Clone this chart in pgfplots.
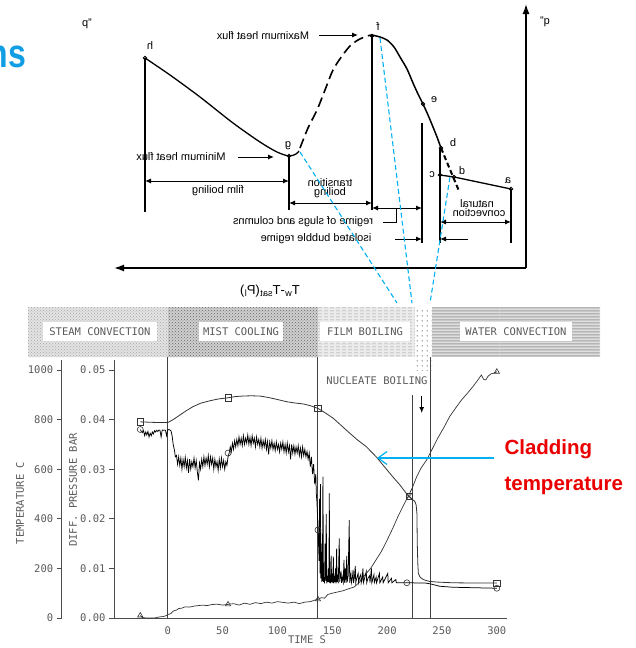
\documentclass[border=0pt]{standalone}
\usepackage{pgfplots}
\pgfplotsset{compat=1.18}
\usepackage{fontspec}
\setmainfont{Liberation Sans}
\newfontfamily\plotfont{DejaVu Sans Mono}
\usetikzlibrary{arrows.meta,patterns}
\definecolor{lblue}{RGB}{0,176,240}
\definecolor{tblue}{RGB}{17,158,228}
\definecolor{cred}{RGB}{235,0,0}
\definecolor{pgray}{RGB}{90,90,90}
\pgfdeclarepatternformonly{wlines}{\pgfpointorigin}{\pgfqpoint{100pt}{2.6pt}}{\pgfqpoint{100pt}{2.6pt}}{\pgfsetlinewidth{1.1pt}\pgfpathmoveto{\pgfqpoint{0pt}{1.3pt}}\pgfpathlineto{\pgfqpoint{100pt}{1.3pt}}\pgfusepath{stroke}}
\pgfdeclarepatternformonly{flines}{\pgfpointorigin}{\pgfqpoint{6pt}{3pt}}{\pgfqpoint{6pt}{3pt}}{\pgfsetlinewidth{0.8pt}\pgfpathmoveto{\pgfqpoint{0pt}{1.5pt}}\pgfpathlineto{\pgfqpoint{4.5pt}{1.5pt}}\pgfusepath{stroke}}
\pgfdeclarepatternformonly{ndots}{\pgfpointorigin}{\pgfqpoint{5pt}{5pt}}{\pgfqpoint{5pt}{5pt}}{\pgfpathcircle{\pgfqpoint{2.5pt}{2.5pt}}{0.9pt}\pgfusepath{fill}}
\newcommand\pf{\plotfont\fontsize{10.5}{12}\selectfont}
\newcommand\df{\fontsize{11}{13}\selectfont}
\begin{document}
\begin{tikzpicture}[x=1pt,y=1pt]
% ---------------- outer pixel-frame axis: diagram and decorations
\begin{axis}[at={(0,0)},anchor=south west,scale only axis,width=635pt,height=648pt,
  xmin=0,xmax=635,ymin=0,ymax=648,y dir=reverse,hide axis,clip=false]
% blue title fragment (cut at the left edge, as in the reference)
\node[anchor=base east,text=tblue,xscale=0.8,font=\bfseries\fontsize{40}{42}\selectfont] at (axis cs:29,67) {ns};
% boiling curve axes
\draw[line width=1.4pt,-{Latex[length=10pt,width=7pt]}] (axis cs:526,268) -- (axis cs:526,4);
\draw[line width=1.4pt,-{Latex[length=10pt,width=7pt]}] (axis cs:526,268) -- (axis cs:114,268);
\node[font=\fontsize{11}{13}\selectfont] at (axis cs:87,24) {q"};
\node[xscale=-1,font=\fontsize{11}{13}\selectfont] at (axis cs:545,22) {q"};
\node[xscale=-1,font=\fontsize{13}{15}\selectfont] at (axis cs:270,291) {T\textsubscript{w}-T\textsubscript{sat}(P\textsubscript{l})};
% boiling curve
\addplot[black,line width=1.3pt,smooth] coordinates {(145,58) (170,75) (200,97) (233,123) (260,142) (277,152) (289,156) (296,154) (299,151)};
\addplot[black,line width=1.6pt,smooth,dash pattern=on 10pt off 5pt] coordinates {(300,148) (308,128) (317,110) (325,90) (333,70) (342,56) (350,46) (358,40) (367,36) (372,35)};
\addplot[black,line width=1.5pt,smooth] coordinates {(372,35) (380,37) (387,40) (394,47) (400,57) (407,69) (413,83) (418,94) (423,104) (428,115) (433,127) (437,137) (441,148)};
\addplot[black,line width=2pt,dash pattern=on 5pt off 3pt] coordinates {(441,148) (459,191)};
\addplot[black,line width=1.3pt] coordinates {(440,175) (454,177) (511,189)};
% vertical lines of the diagram
\addplot[black,line width=1.2pt] coordinates {(145,58) (145,212)};
\addplot[black,line width=1.2pt] coordinates {(289,156) (289,210)};
\addplot[black,line width=1.2pt] coordinates {(372,36) (372,210)};
\addplot[black,line width=1.2pt] coordinates {(422,123) (422,243)};
\addplot[black,line width=1.2pt] coordinates {(440,148) (440,243)};
\addplot[black,line width=1.2pt] coordinates {(511,189) (511,243)};
\addplot[only marks,mark=o,mark size=1.8pt,mark options={fill=white,line width=0.8pt}] coordinates {(145,58) (289,156) (372,36) (423,104) (441,148) (440,175) (454,177) (511,189)};
% point letters
\node[xscale=-1,font=\df] at (axis cs:150,46) {h};
\node[xscale=-1,font=\df] at (axis cs:288,146) {g};
\node[xscale=-1,font=\df] at (axis cs:378,27) {f};
\node[xscale=-1,font=\df] at (axis cs:434,100) {e};
\node[xscale=-1,font=\df] at (axis cs:453,143) {b};
\node[xscale=-1,font=\df] at (axis cs:432,175) {c};
\node[xscale=-1,font=\df] at (axis cs:462,171) {d};
\node[xscale=-1,font=\df] at (axis cs:508,181) {a};
% diagram annotations
\node[xscale=-1,font=\df] at (axis cs:263,36) {Maximum heat flux};
\draw[line width=1pt,-{Latex[length=6pt,width=5pt]}] (axis cs:319,35) -- (axis cs:358,35);
\node[xscale=-1,font=\df] at (axis cs:181,157) {Minimum heat flux};
\draw[line width=1pt,-{Latex[length=6pt,width=5pt]}] (axis cs:238,157) -- (axis cs:274,157);
\draw[line width=1pt,{Latex[length=6pt,width=5pt]}-{Latex[length=6pt,width=5pt]}] (axis cs:145,181) -- (axis cs:289,181);
\node[xscale=-1,font=\df] at (axis cs:218,191) {film boiling};
\draw[line width=1pt,{Latex[length=6pt,width=5pt]}-{Latex[length=6pt,width=5pt]}] (axis cs:289,203) -- (axis cs:372,203);
\node[xscale=-1,font=\df] at (axis cs:330,183) {transition};
\node[xscale=-1,font=\df] at (axis cs:330,193) {boiling};
\draw[line width=1pt,{Latex[length=6pt,width=5pt]}-{Latex[length=6pt,width=5pt]}] (axis cs:372,208) -- (axis cs:422,208);
\draw[line width=1pt] (axis cs:383,222) -- (axis cs:396,222) -- (axis cs:396,208);
\node[xscale=-1,font=\df] at (axis cs:303,222) {regime of slugs and columns};
\node[xscale=-1,font=\df] at (axis cs:316,239) {isolated bubble regime};
\draw[line width=1pt,-{Latex[length=6pt,width=5pt]}] (axis cs:395,239) -- (axis cs:422,239);
\draw[line width=1pt,-{Latex[length=6pt,width=5pt]}] (axis cs:468,239) -- (axis cs:440,239);
\draw[line width=1pt,{Latex[length=6pt,width=5pt]}-{Latex[length=6pt,width=5pt]}] (axis cs:440,222) -- (axis cs:511,222);
\node[xscale=-1,font=\df] at (axis cs:477,204) {natural};
\node[xscale=-1,font=\df] at (axis cs:479,213) {convection};
% blue dashed connectors
\addplot[lblue,line width=1.1pt,dash pattern=on 5pt off 3pt] coordinates {(300,152) (397,303)};
\addplot[lblue,line width=1.1pt,dash pattern=on 5pt off 3pt] coordinates {(380,38) (412,303)};
\addplot[lblue,line width=1.1pt,dash pattern=on 5pt off 3pt] coordinates {(450,177) (430,303)};
% regime bands
\fill[gray!22] (axis cs:28,307) rectangle (axis cs:168,357);
\fill[pattern=crosshatch dots,pattern color=gray!70] (axis cs:28,307) rectangle (axis cs:168,357);
\fill[gray!38] (axis cs:168,307) rectangle (axis cs:318,357);
\fill[pattern=crosshatch dots,pattern color=black!60] (axis cs:168,307) rectangle (axis cs:318,357);
\fill[gray!15] (axis cs:318,307) rectangle (axis cs:415,357);
\fill[pattern=flines,pattern color=gray!75] (axis cs:318,307) rectangle (axis cs:415,357);
\fill[pattern=ndots,pattern color=gray!85] (axis cs:415,307) rectangle (axis cs:432,370);
\fill[gray!25] (axis cs:432,307) rectangle (axis cs:600,357);
\fill[pattern=wlines,pattern color=gray!75] (axis cs:432,307) rectangle (axis cs:600,357);
\fill[white] (axis cs:43,322) rectangle (axis cs:157,341);
\fill[white] (axis cs:199,322) rectangle (axis cs:283,341);
\fill[white] (axis cs:320,322) rectangle (axis cs:410,341);
\fill[white] (axis cs:460,322) rectangle (axis cs:572,341);
\node[font=\pf,text=pgray] at (axis cs:100,331.5) {STEAM CONVECTION};
\node[font=\pf,text=pgray] at (axis cs:241,331.5) {MIST COOLING};
\node[font=\pf,text=pgray] at (axis cs:365,331.5) {FILM BOILING};
\node[font=\pf,text=pgray] at (axis cs:516,331.5) {WATER CONVECTION};
\node[font=\pf,text=pgray] at (axis cs:377,381) {NUCLEATE BOILING};
\draw[black,line width=1pt,-{Latex[length=6pt,width=5pt]}] (axis cs:421.7,396) -- (axis cs:421.7,413);
\node[font=\pf,text=pgray] at (axis cs:307,640) {TIME S};
\node[font=\pf,text=pgray,rotate=90] at (axis cs:20,503) {TEMPERATURE C};
\node[font=\pf,text=pgray,rotate=90] at (axis cs:73,490) {DIFF. PRESSURE BAR};
% callout
\node[anchor=west,text=cred,font=\bfseries\fontsize{20.5}{22}\selectfont] at (axis cs:501,449) {Cladding};
\node[anchor=west,text=cred,font=\bfseries\fontsize{20.5}{22}\selectfont] at (axis cs:501,486) {temperature};
\end{axis}
% ---------------- temperature axis
\begin{axis}[at={(61.7pt,30pt)},anchor=south west,scale only axis,width=5pt,height=258pt,
  xmin=0,xmax=1,ymin=0,ymax=1040.3,axis y line=left,axis x line=none,xtick=\empty,
  axis line style={-,black!70,line width=0.7pt},
  ytick={0,200,...,1000},tick align=outside,major tick length=5pt,
  ytick style={black!70,line width=0.7pt},
  /pgf/number format/assume math mode=true,
  /pgf/number format/1000 sep={},
  yticklabel style={font=\pf,text=pgray}]
\end{axis}
% ---------------- main data axis
\begin{axis}[at={(114pt,30pt)},anchor=south west,scale only axis,width=393pt,height=258pt,
  xmin=-48.95,xmax=309.3,ymin=0,ymax=1040.3,axis x line=bottom,axis y line=left,
  axis line style={-,black!70,line width=0.7pt},
  xtick={0,50,...,300},ytick={0,200,...,1000},
  yticklabels={0.00,0.01,0.02,0.03,0.04,0.05},
  tick align=outside,major tick length=5pt,
  ytick style={black!70,line width=0.7pt},xtick style={draw=none},
  /pgf/number format/assume math mode=true,
  ticklabel style={font=\pf,text=pgray},clip=false]
% regime boundaries
\addplot[black!75,line width=0.6pt] coordinates {(0,0) (0,1052)};
\addplot[black!75,line width=0.6pt] coordinates {(136,0) (136,1052)};
\addplot[black!75,line width=0.6pt] coordinates {(223,0) (223,899)};
\addplot[black!75,line width=0.6pt] coordinates {(239,0) (239,1052)};
% cladding temperature
\addplot[black!80,line width=0.8pt] coordinates {(-25,791) (-15,789) (-5,788) (0,788) (5,800) (11,818) (17,836) (23,852) (30,866) (38.5,876) (46,883) (55,888) (62,893) (69,895) (76,896) (84,895) (92,889) (99,882) (108.5,872) (116,867) (123.6,863) (130,856) (137,845) (144,826) (151,805) (158,777) (166,745) (173,718) (181,691) (190.5,648) (196,618) (202.6,583) (207,560) (211.8,536) (215,517) (218.4,498) (222,483) (225.4,469) (226.5,455) (227.2,420) (227.5,300) (228,220) (228.5,180) (230,165) (233,155) (238,148) (245,145) (260,142) (280,141) (300,141)};
% rising trace (triangles)
\addplot[black!80,line width=0.7pt] coordinates {(-25,10) (-23,2) (-20,0) (-12,0) (-8,4) (-4,6) (-1,10) (0,14) (3,18) (5,28) (8,32) (10,38) (13,40) (16,45) (20,44) (24,48) (28,50) (32,52) (36,50) (40,54) (45,56) (50,52) (55,55) (60,58) (65,52) (70,60) (75,55) (80,62) (85,58) (90,64) (95,60) (100,66) (105,63) (110,60) (115,64) (120,58) (125,64) (130,66) (134,72) (137,75) (140,82) (143,80) (146,95) (150,100) (155,105) (160,110) (165,118) (170,125) (175,145) (178,165) (181,180) (185,200) (190,235) (195,270) (200,314) (205,360) (210,410) (215,455) (219,489) (223,525) (227,570) (231,605) (236,637) (241,680) (246,724) (252,770) (257,812) (263,850) (268,880) (273,905) (278,932) (282,955) (286,980) (288,962) (290,960) (292,975) (295,985) (298,988) (300,993)};
% differential pressure trace (circles)
\addplot[black,line width=0.75pt] coordinates {(-25,760) (-24,752) (-23,748) (-22,755) (-21,735) (-20,750) (-19,738) (-18,752) (-17,730) (-16,745) (-15,735) (-14,750) (-13,742) (-12,755) (-11,750) (-10,757) (-9,752) (-8,758) (-7,756) (-6,730) (-5,758) (-4,757) (-3,758) (-2,756) (-1,735) (0,758) (1,760) (2,758) (3,755) (4,735) (5,700) (6,680) (7,650)
(8,655) (9,620) (10,650) (11,615) (12,645) (13,600) (14,640) (15,610) (16,648) (17,605) (18,635) (19,585) (20,640) (21,600) (22,630) (23,610) (24,645) (25,605) (26,635) (27,590) (28,555) (29,625) (30,600) (31,640) (32,610) (33,650) (34,615) (35,645) (36,620) (37,655) (38,610) (39,650) (40,620) (41,645) (42,600) (43,640) (44,610) (45,630) (46,595) (47,640) (48,605) (49,645) (50,610) (51,635) (52,600) (53,630) (54,615) (55,650) (56,665) (57,690) (58,670) (59,705) (60,680) (61,715) (62,690) (63,720) (64,695) (65,730) (66,700) (67,725) (68,695) (69,735) (70,700) (71,725) (72,705) (73,738) (74,700) (75,728) (76,695) (77,735) (78,705) (79,725) (80,690) (81,730) (82,700) (83,720) (84,690) (85,725) (86,685) (87,715) (88,690) (89,720) (90,680) (91,712) (92,660) (93,710) (94,685) (95,715) (96,680) (97,705) (98,675) (99,710) (100,680) (101,700) (102,670) (103,705) (104,680) (105,710) (106,670) (107,700) (108,665) (109,705) (110,670) (111,695) (112,640) (113,700) (114,665) (115,695) (116,660) (117,690) (118,665) (119,695) (120,655) (121,685) (122,650) (123,690) (124,655) (125,680) (126,650) (127,672) (128,640) (129,665) (130,610) (131,650) (132,580) (133,620) (134,540) (135,580) (135.5,500) (136,470) (136.5,420)
(137,355) (137.5,300) (138,230) (138.4,480) (138.8,180) (139.2,540) (139.6,160) (140,300) (140.4,148) (141,150) (141.5,570) (142,145) (142.5,165) (143,140) (143.5,300) (144,150) (144.5,420) (145,140) (145.5,170) (146,145) (146.5,200) (147,145) (147.3,503) (147.7,142) (148.2,175) (148.7,140) (149,250) (149.4,145) (150,180) (150.5,142) (151,247) (151.4,140) (152,170) (152.5,145) (153,200) (153.5,140) (154,280) (154.4,145) (155,175) (155.5,140) (156.4,321) (156.8,145) (157.5,170) (158,190) (158.5,142) (159.2,165) (160,145) (160.7,234) (161.1,143) (162,200) (162.5,142) (163.2,250) (163.6,145) (164.5,170) (165.5,395) (165.9,142) (166.5,165) (167,180) (167.5,143) (168.3,160) (169,194) (169.4,142) (170.2,165) (171,210) (171.4,142) (172.3,160) (173.6,180) (174,143) (175,165) (176,175) (176.4,142) (177.2,158) (178,200) (178.4,142) (179.5,160) (181,187) (181.4,142) (182.5,160) (184,170) (184.4,143) (185.7,200) (186.1,142) (188,175) (188.4,143) (190,165) (190.4,142) (193,180) (193.4,142) (196,165) (196.4,142) (200.6,180) (201,142) (204,160) (204.4,142) (208,155) (208.4,142) (218,142) (235,141) (240,137) (248,128) (260,124) (280,122) (300,120)};
% markers
\addplot[only marks,mark=o,mark size=3pt,mark options={black!80,fill=white,line width=0.6pt}] coordinates {(-25,760) (55,665) (137,355) (218,142) (300,120)};
\addplot[only marks,mark=square,mark size=3.2pt,mark options={black!80,fill=white,line width=0.6pt}] coordinates {(-25,791) (55,888) (137,845) (220,490) (300,141)};
\addplot[only marks,mark=x,mark size=3.2pt,mark options={black!80,line width=0.6pt}] coordinates {(220,490)};
\addplot[only marks,mark=triangle,mark size=3pt,mark options={black!80,fill=white,line width=0.6pt}] coordinates {(-25,10) (55,55) (137,75) (300,993)};
\end{axis}
% callout arrow
\draw[lblue,line width=1.2pt,-{Straight Barb[length=9pt,width=13pt]}] (494,190) -- (377,190);
\pgfresetboundingbox
\path (0,0) rectangle (635,648);
\end{tikzpicture}
\end{document}
